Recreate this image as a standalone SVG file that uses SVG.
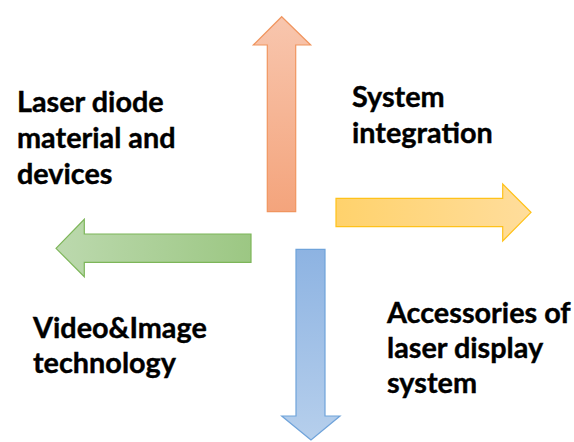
<svg xmlns="http://www.w3.org/2000/svg" width="574" height="442" viewBox="0 0 574 442">
<defs>
<linearGradient id="gUp" x1="0" y1="0" x2="0" y2="1"><stop offset="0" stop-color="#f8c6ae"/><stop offset="1" stop-color="#f4a47c"/></linearGradient>
<linearGradient id="gRight" x1="0" y1="0" x2="1" y2="0"><stop offset="0" stop-color="#ffd26c"/><stop offset="1" stop-color="#ffdd9c"/></linearGradient>
<linearGradient id="gLeft" x1="0" y1="0" x2="1" y2="0"><stop offset="0" stop-color="#bcd9ae"/><stop offset="1" stop-color="#9cc783"/></linearGradient>
<linearGradient id="gDown" x1="0" y1="0" x2="0" y2="1"><stop offset="0" stop-color="#8db3e2"/><stop offset="1" stop-color="#b6cfec"/></linearGradient>
<style>
.lbl{font-family:Lato,"Liberation Sans",sans-serif;font-weight:bold;font-size:28.8px;fill:#000;stroke:#000;stroke-width:0.4}
.arr{stroke-width:1.2;stroke-linejoin:miter}
</style>
</defs>
<g id="connectors">
<polygon id="arrow-up" class="arr" fill="url(#gUp)" stroke="#f0955f" points="281.7,16.7 310.7,45 295.7,45 295.7,211.7 267.3,211.7 267.3,45 253.3,45"/>
<polygon id="arrow-right" class="arr" fill="url(#gRight)" stroke="#ffc21a" points="531,212.3 502.7,241 502.7,226.7 336,226.7 336,198.3 502.7,198.3 502.7,184"/>
<polygon id="arrow-left" class="arr" fill="url(#gLeft)" stroke="#7db659" points="56,248.3 84.3,219.3 84.3,234 251,234 251,262.3 84.3,262.3 84.3,276.7"/>
<polygon id="arrow-down" class="arr" fill="url(#gDown)" stroke="#6fa3da" points="311,440 281.7,416 296,416 296,249.3 325,249.3 325,416 340,416"/>
</g>
<g id="node-laser-diode">
<text class="lbl" x="17" y="112">Laser diode</text>
<text class="lbl" x="17" y="148">material and</text>
<text class="lbl" x="17" y="184">devices</text>
</g>
<g id="node-system-integration">
<text class="lbl" x="352" y="107">System</text>
<text class="lbl" x="352" y="143">integration</text>
</g>
<g id="node-accessories">
<text class="lbl" x="387" y="323">Accessories of</text>
<text class="lbl" x="387" y="358">laser display</text>
<text class="lbl" x="387" y="393">system</text>
</g>
<g id="node-video-image">
<text class="lbl" x="33" y="338">Video&amp;Image</text>
<text class="lbl" x="33" y="373">technology</text>
</g>
</svg>
